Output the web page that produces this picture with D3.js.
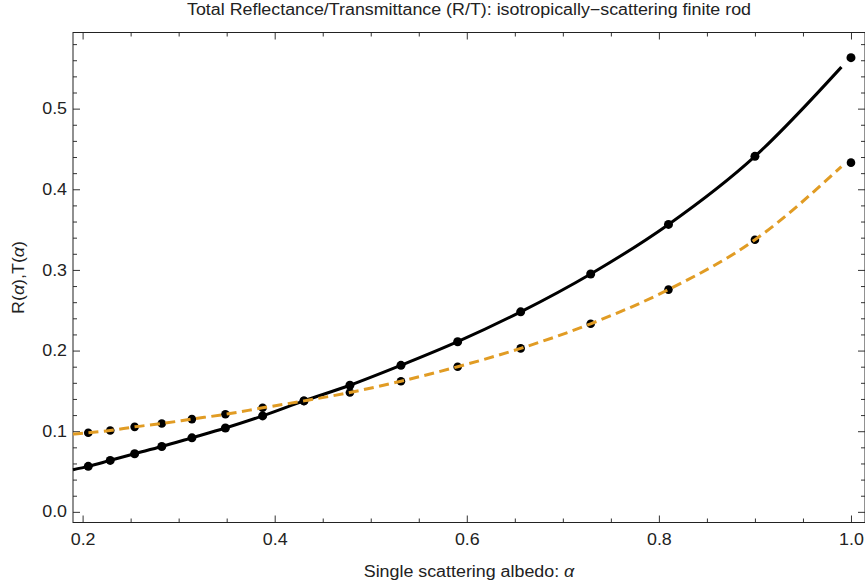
<!DOCTYPE html>
<head>
  <meta charset="utf-8">
  <style>
    body { margin: 0; background: #fff; }
    svg text { font-family: "Liberation Sans", Arial, sans-serif; fill: #222; }
    svg .tick line { stroke: #333; }
  </style>
</head>
<body>
<script src="https://d3js.org/d3.v7.min.js"></script>
<script>
  // albedo values of the sampled points
  var alphaPts = [0.205891, 0.228768, 0.254187, 0.28243, 0.313811, 0.348678, 0.38742, 0.430467,
                  0.478297, 0.531441, 0.59049, 0.6561, 0.729, 0.81, 0.9, 1.0];
  // R points (black solid series)
  var rPts = [0.0564, 0.0638, 0.0720, 0.0810, 0.0918, 0.1040, 0.1190, 0.1376,
              0.1570, 0.1817, 0.2110, 0.2480, 0.2950, 0.3564, 0.4408, 0.5632];
  // T points (orange dashed series)
  var tPts = [0.0980, 0.1009, 0.1054, 0.1095, 0.1150, 0.1210, 0.1290, 0.1376,
              0.1480, 0.1620, 0.1800, 0.2027, 0.2332, 0.2756, 0.3374, 0.4330];

  // curves
  var curveX = [0.19, 0.205891, 0.228768, 0.254187, 0.28243, 0.313811, 0.348678, 0.38742, 0.430467,
                0.478297, 0.531441, 0.59049, 0.6561, 0.729, 0.81, 0.9, 0.99];
  var rCurve = [0.0523, 0.0564, 0.0638, 0.0720, 0.0810, 0.0918, 0.1040, 0.1190, 0.1376,
                0.1570, 0.1817, 0.2110, 0.2480, 0.2950, 0.3564, 0.4408, 0.5515];
  var tCurve = [0.0964, 0.0980, 0.1009, 0.1054, 0.1095, 0.1150, 0.1210, 0.1290, 0.1376,
                0.1480, 0.1620, 0.1800, 0.2027, 0.2332, 0.2756, 0.3374, 0.4280];

  var xMajor = [0.2, 0.4, 0.6, 0.8, 1.0];
  var yMajor = [0.0, 0.1, 0.2, 0.3, 0.4, 0.5];

  var W = 865, H = 587;
  var fLeft = 73, fRight = 865, fTop = 32.5, fBottom = 522.5;   // frame edges in px
  var orange = "#E19C24";
  var fontSize = "16px", widen = 1.115;   // text in the original is a bit wider than Arial

  var svg = d3.select("body").append("svg")
      .attr("width", W)
      .attr("height", H);

  var x = d3.scaleLinear().domain([0.19, 1.0146]).range([fLeft, fRight]);
  var y = d3.scaleLinear().domain([-0.0132, 0.5944]).range([fBottom, fTop]);

  var isMajor = function (d, step) { return Math.abs(Math.round(d / step) * step - d) < 1e-6; };
  var xMinor = d3.range(0.2, 1.0001, 0.05).filter(function (d) { return !isMajor(d, 0.2); });
  var yMinor = d3.range(0, 0.59, 0.02).filter(function (d) { return !isMajor(d, 0.1); });

  var fmt = d3.format(".1f");

  // frame ticks: bottom/left with labels, top/right mirrored
  function frameAxis(axisFn, scale, vals, size, pad, tr) {
    var a = axisFn(scale).tickValues(vals).tickSizeInner(-size).tickSizeOuter(0)
      .tickPadding(pad || 0)
      .tickFormat(pad ? fmt : "");
    var g = svg.append("g").attr("transform", tr).call(a);
    g.select(".domain").remove();
    g.selectAll("text").style("font-size", fontSize).attr("fill", "#222");
    return g;
  }

  frameAxis(d3.axisBottom, x, xMajor, 7, 11, "translate(0," + fBottom + ")");
  frameAxis(d3.axisBottom, x, xMinor, 4, 0, "translate(0," + fBottom + ")");
  frameAxis(d3.axisTop, x, xMajor, 7, 0, "translate(0," + fTop + ")");
  frameAxis(d3.axisTop, x, xMinor, 4, 0, "translate(0," + fTop + ")");
  frameAxis(d3.axisLeft, y, yMajor, 7, 6, "translate(" + fLeft + ",0)");
  frameAxis(d3.axisLeft, y, yMinor, 4, 0, "translate(" + fLeft + ",0)");
  frameAxis(d3.axisRight, y, yMajor, 7, 0, "translate(" + fRight + ",0)");
  frameAxis(d3.axisRight, y, yMinor, 4, 0, "translate(" + fRight + ",0)");

  // frame
  svg.append("rect")
      .attr("x", fLeft).attr("y", fTop)
      .attr("width", fRight - fLeft).attr("height", fBottom - fTop)
      .style("fill", "none").style("stroke", "#222").style("stroke-width", 1);

  var plot = svg.append("g");

  var line = function (ys) {
    return d3.line()
      .x(function (d) { return x(d); })
      .y(function (d, i) { return y(ys[i]); })
      .curve(d3.curveMonotoneX);
  };

  plot.append("path")
      .attr("d", line(rCurve)(curveX))
      .style("fill", "none").style("stroke", "#000").style("stroke-width", 3);

  plot.selectAll("circle.r").data(alphaPts).enter().append("circle")
      .attr("class", "r")
      .attr("cx", function (d) { return x(d); })
      .attr("cy", function (d, i) { return y(rPts[i]); })
      .attr("r", 4.5).style("fill", "#000");

  plot.selectAll("circle.t").data(alphaPts).enter().append("circle")
      .attr("class", "t")
      .attr("cx", function (d) { return x(d); })
      .attr("cy", function (d, i) { return y(tPts[i]); })
      .attr("r", 4.3).style("fill", "#000");

  plot.append("path")
      .attr("d", line(tCurve)(curveX))
      .style("fill", "none").style("stroke", orange).style("stroke-width", 3)
      .style("stroke-dasharray", "10,5.5");

  // title and axis labels
  svg.append("text")
      .attr("x", (fLeft + fRight) / 2).attr("y", 15)
      .attr("text-anchor", "middle")
      .style("font-size", fontSize)
      .text("Total Reflectance/Transmittance (R/T): isotropically\u2212scattering finite rod");

  var xl = svg.append("text")
      .attr("x", (fLeft + fRight) / 2).attr("y", 577)
      .attr("text-anchor", "middle")
      .style("font-size", fontSize);
  xl.append("tspan").text("Single scattering albedo: ");
  xl.append("tspan").style("font-style", "italic").text("\u03b1");

  var yl = svg.append("text")
      .attr("transform", "translate(24," + (fTop + fBottom) / 2 + ") rotate(-90)")
      .attr("text-anchor", "middle")
      .style("font-size", fontSize);
  yl.append("tspan").text("R(");
  yl.append("tspan").style("font-style", "italic").text("\u03b1");
  yl.append("tspan").text("),T(");
  yl.append("tspan").style("font-style", "italic").text("\u03b1");
  yl.append("tspan").text(")");

  // widen every label a little
  svg.selectAll("text").filter(function () { return this.textContent.length > 0; })
    .each(function () {
      var w = this.getComputedTextLength();
      d3.select(this).attr("textLength", w * widen).attr("lengthAdjust", "spacingAndGlyphs");
    });
</script>
</body>
</html>
